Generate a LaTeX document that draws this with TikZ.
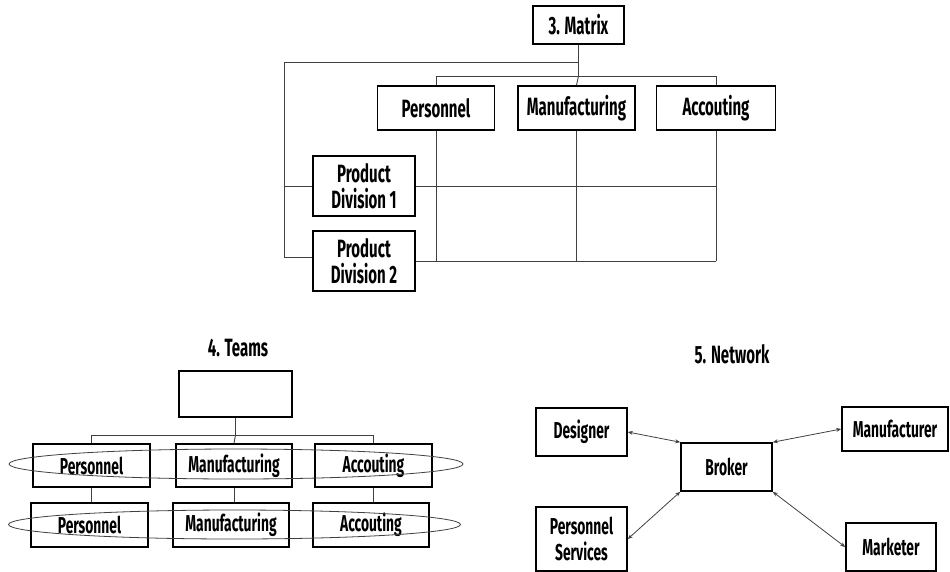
\documentclass[tikz,border=0pt]{standalone}
\usepackage{fontspec}
\setmainfont{Fira Sans}[FakeStretch=0.6]
\usetikzlibrary{arrows.meta,shapes.geometric}
\tikzset{
  box/.style={draw=black, line width=1.6pt, fill=white, inner sep=0pt, align=center,
    font=\bfseries\fontsize{23}{26}\selectfont},
  bigbox/.style={box, font=\bfseries\fontsize{25}{26}\selectfont},
  conn/.style={draw=black!75, line width=0.9pt},
  ring/.style={draw=black!75, line width=0.8pt},
  arr/.style={draw=black!75, line width=0.8pt, {Stealth[length=5pt,width=4pt]}-{Stealth[length=5pt,width=4pt]}},
  ttl/.style={font=\bfseries\fontsize{25}{28}\selectfont, inner sep=0pt}
}
\begin{document}
\begin{tikzpicture}[x=1pt,y=-1pt]
\useasboundingbox (0,0) rectangle (950,571);
% ---------- 3. Matrix ----------
\node[bigbox, minimum width=91pt, minimum height=38pt] (mat) at (578.5,25) {3. Matrix};
\node[bigbox, minimum width=117pt, minimum height=44pt] (pers) at (436,108) {Personnel};
\node[bigbox, minimum width=117pt, minimum height=44pt] (manu) at (576.5,108) {Manufacturing};
\node[bigbox, minimum width=119pt, minimum height=44pt] (acct) at (716,108) {Accouting};
\node[bigbox, minimum width=102pt, minimum height=60pt] (pd1) at (364,186) {Product\\Division 1};
\node[bigbox, minimum width=102pt, minimum height=60pt] (pd2) at (364,261) {Product\\Division 2};
\coordinate (j1) at (578.5,62);
\coordinate (j2) at (578.5,76);
\coordinate (lt) at (284,62);
\coordinate (lb) at (284,257);
\coordinate (g1) at (716,186);
\coordinate (g2) at (716,261);
\draw[conn] (mat.south) -- (j2);
\draw[conn] (j1) -- (lt) -- (lb) -- (lb -| pd2.west);
\draw[conn] (lt |- pd1.west) -- (pd1.west);
\draw[conn] (pers.north) -- (pers.north |- j2) -- (acct.north |- j2) -- (acct.north);
\draw[conn] (j2) -- (manu.north);
\draw[conn] (pd1.east) -- (g1);
\draw[conn] (pd2.east) -- (g2);
\draw[conn] (pers.south) -- (pers.south |- g2);
\draw[conn] (manu.south) -- (manu.south |- g2);
\draw[conn] (acct.south) -- (g2);
% ---------- 4. Teams ----------
\node[ttl] (tteams) at (238,348) {4. Teams};
\node[box, minimum width=113pt, minimum height=46pt] (top) at (235.5,394) {};
\node[box, minimum width=117pt, minimum height=43pt] (r1p) at (91.5,465.5) {Personnel};
\node[box, minimum width=116pt, minimum height=43pt] (r1m) at (234,465.5) {Manufacturing};
\node[box, minimum width=117pt, minimum height=43pt] (r1a) at (373.5,465.5) {Accouting};
\node[box, minimum width=117pt, minimum height=44pt] (r2p) at (89.5,525) {Personnel};
\node[box, minimum width=116pt, minimum height=44pt] (r2m) at (231,525) {Manufacturing};
\node[box, minimum width=116pt, minimum height=44pt] (r2a) at (371,525) {Accouting};
\coordinate (tb) at (235.5,435);
\draw[conn] (top.south) -- (tb);
\draw[conn] (r1p.north) -- (r1p.north |- tb) -- (r1a.north |- tb) -- (r1a.north);
\draw[conn] (tb) -- (r1m.north);
\draw[conn] (r1p.south) -- (r1p.south |- r2p.north);
\draw[conn] (r1m.south) -- (r1m.south |- r2m.north);
\draw[conn] (r1a.south) -- (r1a.south |- r2a.north);
\node[ring, ellipse, minimum width=454pt, minimum height=30pt, inner sep=0pt] (e1) at (236,464) {};
\node[ring, ellipse, minimum width=452pt, minimum height=29pt, inner sep=0pt] (e2) at (234.5,524.5) {};
% ---------- 5. Network ----------
\node[ttl] (tnet) at (732,354) {5. Network};
\node[box, minimum width=91pt, minimum height=48pt] (des) at (581.5,432) {Designer};
\node[box, minimum width=91pt, minimum height=48pt] (brk) at (726.5,467) {Broker};
\node[box, minimum width=106pt, minimum height=44pt] (mfr) at (895,429) {Manufacturer};
\node[box, minimum width=91pt, minimum height=64pt] (ps) at (581.5,539) {Personnel\\Services};
\node[box, minimum width=90pt, minimum height=48pt] (mkt) at (891,547) {Marketer};
\draw[arr] (des.east) -- (brk.north west);
\draw[arr] (brk.north east) -- (mfr.west);
\draw[arr] (ps.east) -- (brk.south west);
\draw[arr] (brk.south east) -- (mkt.west);
\end{tikzpicture}
\end{document}
